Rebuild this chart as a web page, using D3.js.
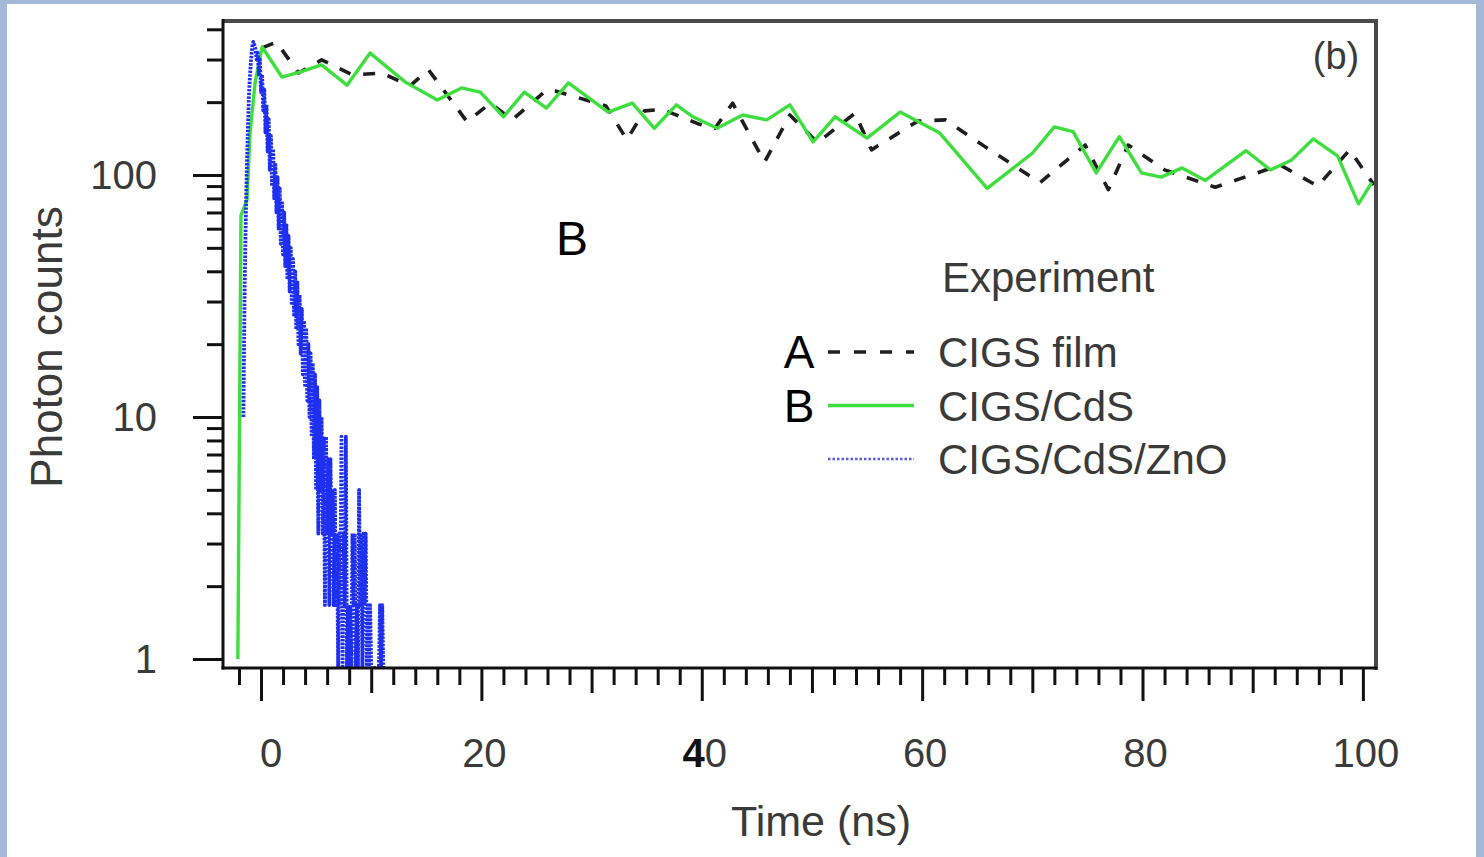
<!DOCTYPE html>
<html>
<head>
<meta charset="utf-8">
<script src="https://cdn.jsdelivr.net/npm/d3@7"></script>
<style>
  body { margin: 0; background: #a3b9d7; }
  svg { display: block; }
  text { font-family: 'Liberation Sans', Arial, sans-serif; }
</style>
</head>
<body>
<svg id="chart" width="1484" height="857"></svg>
<script>
// CIGS film (A, dashed black)
const filmTime = [0.1, 1.4, 3.4, 5.5, 8.3, 11.0, 13.5, 15.2, 18.7, 20.8, 22.8, 25.9, 26.8, 31.3, 33.2, 34.8, 36.4, 39.8, 41.2, 42.8, 45.7, 48.0, 50.5, 53.9, 55.4, 59.6, 62.1, 65.7, 70.7, 74.8, 76.9, 78.7, 82.0, 86.6, 92.5, 95.9, 98.8, 101.0];
const filmCounts = [335, 354, 264, 299, 259, 264, 233, 272, 166, 198, 169, 224, 222, 193, 140, 184, 187, 162, 156, 198, 113, 177, 136, 180, 127, 167, 169, 131, 93, 133, 87, 133, 105, 89, 110, 90, 127, 91];

// CIGS/CdS (B, solid green)
const cdsTime = [-2.1, -1.82, -1.27, -1.0, -0.54, 0.1, 1.9, 3.5, 5.5, 7.8, 9.9, 13.1, 16.0, 18.2, 19.9, 22.0, 23.9, 25.9, 27.9, 31.5, 33.7, 35.7, 37.7, 39.2, 41.4, 43.7, 45.9, 48.0, 50.1, 52.1, 55.0, 58.0, 61.6, 65.9, 70.0, 72.0, 73.7, 75.8, 77.9, 79.9, 81.7, 83.6, 85.7, 89.4, 91.6, 93.5, 95.5, 97.7, 99.6, 100.8];
const cdsCounts = [1, 68, 79, 149, 240, 338, 254, 266, 285, 235, 319, 242, 204, 229, 220, 174, 220, 189, 240, 182, 198, 156, 195, 174, 156, 177, 169, 195, 137, 174, 142, 182, 149, 88, 123, 158, 151, 102, 144, 102, 98, 107, 95, 126, 105, 115, 141, 120, 76, 93];

// CIGS/CdS/ZnO (dotted blue), 0.1 ns bins
const znoTime = [
  -1.6, -1.5, -1.4, -1.3, -1.2, -1.1, -1.0, -0.9, -0.8, -0.7,
  -0.6, -0.5, -0.4, -0.3, -0.2, -0.1, 0.0, 0.1, 0.2, 0.3,
  0.4, 0.5, 0.6, 0.7, 0.8, 0.9, 1.0, 1.1, 1.2, 1.3,
  1.4, 1.5, 1.6, 1.7, 1.8, 1.9, 2.0, 2.1, 2.2, 2.3,
  2.4, 2.5, 2.6, 2.7, 2.8, 2.9, 3.0, 3.1, 3.2, 3.3,
  3.4, 3.5, 3.6, 3.7, 3.8, 3.9, 4.0, 4.1, 4.2, 4.3,
  4.4, 4.5, 4.6, 4.7, 4.8, 4.9, 5.0, 5.1, 5.2, 5.3,
  5.4, 5.5, 5.6, 5.7, 5.8, 5.9, 6.0, 6.1, 6.2, 6.3,
  6.4, 6.5, 6.6, 6.7, 6.8, 6.9, 7.0, 7.1, 7.2, 7.3,
  7.4, 7.5, 7.6, 7.7, 7.8, 7.9, 8.0, 8.1, 8.2, 8.3,
  8.4, 8.5, 8.6, 8.7, 8.8, 8.9, 9.0, 9.1, 9.2, 9.3,
  9.4, 9.5, 9.6, 9.7, 9.8, 9.9, 10.0, 10.1, 10.2, 10.3,
  10.4, 10.5, 10.6, 10.7, 10.8, 10.9, 11.0, 11.1];
const znoCounts = [
  10, 30, 60, 100, 150, 210, 260, 300, 340, 355,
  345, 330, 300, 320, 260, 300, 220, 260, 185, 225,
  150, 195, 125, 170, 105, 145, 90, 128, 80, 112,
  70, 98, 60, 88, 52, 78, 47, 70, 42, 63,
  37, 56, 33, 50, 29, 45, 26, 40, 23, 36,
  20, 32, 18.3, 28, 15, 25, 13.3, 23.3, 11.7, 20,
  10, 18.3, 8.3, 16.7, 6.7, 15, 5, 13.3, 3.3, 11.7,
  5, 10, 3.3, 8.3, 1.67, 8.3, 3.3, 6.7, 1.67, 6.7,
  3.3, 5, 1.67, 5, 1.67, 3.3, 0, 3.3, 1.67, 8.3,
  0, 3.3, 1.67, 8.3, 0, 1.67, 0, 1.67, 0, 3.3,
  1.67, 3.3, 0, 1.67, 0, 5, 1.67, 3.3, 0, 3.3,
  1.67, 3.3, 0, 1.67, 0, 1.67, 0, 0, 0, 0,
  0, 0, 0, 0, 1.67, 0, 1.67, 0];

const xMajor = [0, 20, 40, 60, 80, 100];
const xMid = [10, 30, 50, 70, 90];
const xMinor = [-2, 2, 4, 6, 8, 12, 14, 16, 18, 22, 24, 26, 28, 32, 34, 36, 38, 42, 44, 46, 48, 52, 54, 56, 58, 62, 64, 66, 68, 72, 74, 76, 78, 82, 84, 86, 88, 92, 94, 96, 98];
const yMajor = [1, 10, 100];
const yMinor = [2, 3, 4, 5, 6, 7, 8, 9, 20, 30, 40, 50, 60, 70, 80, 90, 200, 300, 400];
const legendLabels = ['CIGS film', 'CIGS/CdS', 'CIGS/CdS/ZnO'];
const legendTags = ['A', 'B', ''];

const plot = { left: 223, top: 20, right: 1375, bottom: 668 };
const yMin = 0.918;

const svg = d3.select('#chart');
svg.append('rect').attr('x', 7).attr('y', 4).attr('width', 1469).attr('height', 853).attr('fill', '#fff');

const x = d3.scaleLinear().domain([-3.45, 101.1]).range([plot.left, plot.right]);
const y = d3.scaleLog().domain([yMin, 437]).range([plot.bottom, plot.top]);

svg.append('clipPath').attr('id', 'clip')
  .append('rect')
  .attr('x', plot.left).attr('y', plot.top)
  .attr('width', plot.right - plot.left).attr('height', plot.bottom - plot.top);

const line = d3.line()
  .x((d) => x(d[0]))
  .y((d) => y(Math.max(d[1], yMin)));

const zip = (t, v) => t.map((d, i) => [d, v[i]]);

const series = [
  { data: zip(filmTime, filmCounts), color: '#1e1e1e', width: 3.6, dash: '12,13' },
  { data: zip(cdsTime, cdsCounts), color: '#3fde3f', width: 3.4, dash: null },
  { data: zip(znoTime, znoCounts), color: '#1f2ff0', width: 3.8, dash: '2.4,1.3' },
];

const lines = svg.append('g').attr('clip-path', 'url(#clip)');
series.forEach((s) => {
  lines.append('path')
    .datum(s.data)
    .attr('fill', 'none')
    .attr('stroke', s.color)
    .attr('stroke-width', s.width)
    .attr('stroke-dasharray', s.dash)
    .attr('stroke-linejoin', 'round')
    .attr('d', line);
});

// ticks
const tickStyle = (g) => {
  g.select('.domain').remove();
  g.selectAll('line').attr('stroke', '#111').attr('stroke-width', 3);
};
const xAxis = (vals, size) => (g) =>
  g.attr('transform', `translate(0,${plot.bottom})`)
    .call(d3.axisBottom(x).tickValues(vals).tickSize(size).tickFormat(''))
    .call(tickStyle);
const yAxis = (vals, size) => (g) =>
  g.attr('transform', `translate(${plot.left},0)`)
    .call(d3.axisLeft(y).tickValues(vals).tickSize(size).tickFormat(''))
    .call(tickStyle);

svg.append('g').call(xAxis(xMinor, 17));
svg.append('g').call(xAxis(xMid, 25));
svg.append('g').call(xAxis(xMajor, 33));
svg.append('g').call(yAxis(yMinor, 16));
svg.append('g').call(yAxis(yMajor, 30));

// frame
svg.append('line').attr('x1', plot.left - 1).attr('x2', plot.right + 3).attr('y1', plot.top + 1).attr('y2', plot.top + 1)
  .attr('stroke', '#4a4a4a').attr('stroke-width', 4);
svg.append('line').attr('x1', plot.right + 1).attr('x2', plot.right + 1).attr('y1', plot.top - 1).attr('y2', plot.bottom + 2)
  .attr('stroke', '#4a4a4a').attr('stroke-width', 4);
svg.append('line').attr('x1', plot.left).attr('x2', plot.left).attr('y1', plot.top - 1).attr('y2', plot.bottom + 1.5)
  .attr('stroke', '#111').attr('stroke-width', 3);
svg.append('line').attr('x1', plot.left - 1.5).attr('x2', plot.right + 2).attr('y1', plot.bottom).attr('y2', plot.bottom)
  .attr('stroke', '#111').attr('stroke-width', 3);

// tick labels
svg.append('g').selectAll('text').data(xMajor).join('text')
  .attr('x', (d) => x(d) + (d === 0 ? 10 : 3))
  .attr('y', 767)
  .attr('text-anchor', 'middle')
  .attr('fill', '#3a3a3a')
  .attr('font-size', 40)
  .each(function (d) {
    const t = d3.select(this);
    if (d === 40) {
      t.append('tspan').attr('font-weight', 'bold').attr('fill', '#111').text('4');
      t.append('tspan').text('0');
    } else {
      t.text(d);
    }
  });

svg.append('g').selectAll('text').data(yMajor).join('text')
  .attr('x', 157)
  .attr('y', (d) => y(d) + 14)
  .attr('text-anchor', 'end')
  .attr('fill', '#3a3a3a')
  .attr('font-size', 40)
  .text((d) => d);

// axis titles
svg.append('text')
  .attr('x', 821).attr('y', 836)
  .attr('text-anchor', 'middle')
  .attr('fill', '#3a3a3a')
  .attr('font-size', 43)
  .text('Time (ns)');

svg.append('text')
  .attr('transform', 'translate(62,347) rotate(-90)')
  .attr('text-anchor', 'middle')
  .attr('fill', '#3a3a3a')
  .attr('font-size', 44)
  .text('Photon counts');

svg.append('text')
  .attr('x', 1336).attr('y', 69)
  .attr('text-anchor', 'middle')
  .attr('fill', '#3a3a3a')
  .attr('font-size', 38)
  .text('(b)');

svg.append('text')
  .attr('x', 572).attr('y', 255)
  .attr('text-anchor', 'middle')
  .attr('fill', '#000')
  .attr('font-size', 48)
  .text('B');

// legend
const legend = svg.append('g').attr('transform', 'translate(828,0)');
legend.append('text')
  .attr('x', 114).attr('y', 292)
  .attr('fill', '#3a3a3a')
  .attr('font-size', 42)
  .text('Experiment');

const rows = legend.selectAll('g.row').data(legendLabels).join('g')
  .attr('class', 'row')
  .attr('transform', (d, i) => `translate(0,${352 + i * 53.5})`);

rows.append('line')
  .attr('x1', 0).attr('x2', 86)
  .attr('stroke', (d, i) => (i === 2 ? '#5a5af0' : series[i].color))
  .attr('stroke-width', (d, i) => (i === 2 ? 2.6 : series[i].width))
  .attr('stroke-dasharray', (d, i) => (i === 0 ? '12,14' : i === 2 ? '2.5,2' : null));

rows.append('text')
  .attr('x', 110).attr('y', 15)
  .attr('fill', '#3a3a3a')
  .attr('font-size', 42)
  .text((d) => d);

rows.append('text')
  .attr('x', -29).attr('y', 16)
  .attr('text-anchor', 'middle')
  .attr('fill', '#000')
  .attr('font-size', 46)
  .text((d, i) => legendTags[i]);
</script>
</body>
</html>
